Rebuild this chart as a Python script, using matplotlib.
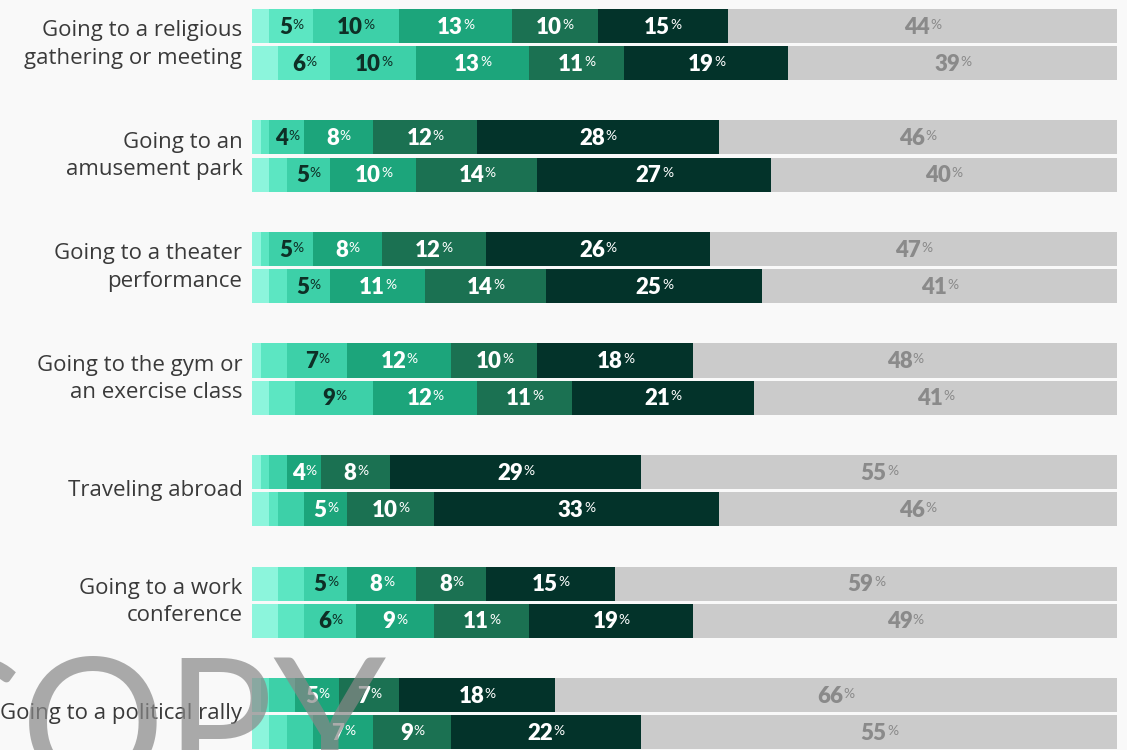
import matplotlib
matplotlib.use("Agg")
import matplotlib.pyplot as plt

# categories (top to bottom)
activities = ["Going to a religious\ngathering or meeting",
              "Going to an\namusement park",
              "Going to a theater\nperformance",
              "Going to the gym or\nan exercise class",
              "Traveling abroad",
              "Going to a work\nconference",
              "Going to a political rally"]

# each row: 6 shades of green (light -> dark) then gray
# first bar of each pair
top_bar = [[2, 5, 10, 13, 10, 15, 44],
           [1, 1, 4, 8, 12, 28, 46],
           [1, 1, 5, 8, 12, 26, 47],
           [1, 3, 7, 12, 10, 18, 48],
           [1, 1, 2, 4, 8, 29, 55],
           [3, 3, 5, 8, 8, 15, 59],
           [1, 1, 3, 5, 7, 18, 66]]
# second bar of each pair
bottom_bar = [[3, 6, 10, 13, 11, 19, 39],
              [2, 2, 5, 10, 14, 27, 40],
              [2, 2, 5, 11, 14, 25, 41],
              [2, 3, 9, 12, 11, 21, 41],
              [2, 1, 3, 5, 10, 33, 46],
              [3, 3, 6, 9, 11, 19, 49],
              [2, 2, 3, 7, 9, 22, 55]]

colors = ["#8cf5dc", "#5ce6c2", "#3dd0a8", "#1ca57b", "#1b7152", "#03332a", "#cbcbcb"]
text_cols = ["#0e2f26", "#0e2f26", "#0e2f26", "white", "white", "white", "#8a8a8a"]
bg = "#f9f9f9"
num_font = ["Lato", "DejaVu Sans"]
lab_font = ["Open Sans", "DejaVu Sans"]

fig = plt.figure(figsize=(11.27, 7.5), dpi=100, facecolor=bg)
ax = fig.add_axes([252 / 1127, 0, 865 / 1127, 1])
ax.set_facecolor(bg)

bar_h = 0.305
off = 0.166


def draw_bar(y, vals):
    left = 0
    for k, v in enumerate(vals):
        # gray part fills up the rest of the bar (values are rounded)
        w = 100 - left if k == len(vals) - 1 else v
        ax.barh(y, w, left=left, height=bar_h, color=colors[k], linewidth=0)
        if v >= 4:
            t = ax.annotate(str(v), xy=(left + w / 2, y), xytext=(-4, -1),
                            textcoords="offset points", ha="center", va="center",
                            fontsize=16, fontweight="heavy", color=text_cols[k],
                            family=num_font)
            ax.annotate("%", xy=(1, 1), xycoords=t, xytext=(0.3, -1.5),
                        textcoords="offset points", ha="left", va="top",
                        fontsize=10, color=text_cols[k], family=num_font)
        left += w


for i, name in enumerate(activities):
    draw_bar(i - off, top_bar[i])
    draw_bar(i + off, bottom_bar[i])
    ax.annotate(name, xy=(0, i), xytext=(-7, 0), textcoords="offset points",
                ha="right", va="center", fontsize=16, color="#3a3a3a",
                linespacing=1.42, family=lab_font, annotation_clip=False)

ax.set_xlim(0, 100)
ax.set_ylim(6.327, -0.399)
ax.axis("off")

# watermark
fig.text(-0.088, -0.05, "COPY", fontsize=130, color="#888888", alpha=0.7,
         family=num_font, ha="left", va="baseline")

fig.savefig("out.png", dpi=100, facecolor=bg)
